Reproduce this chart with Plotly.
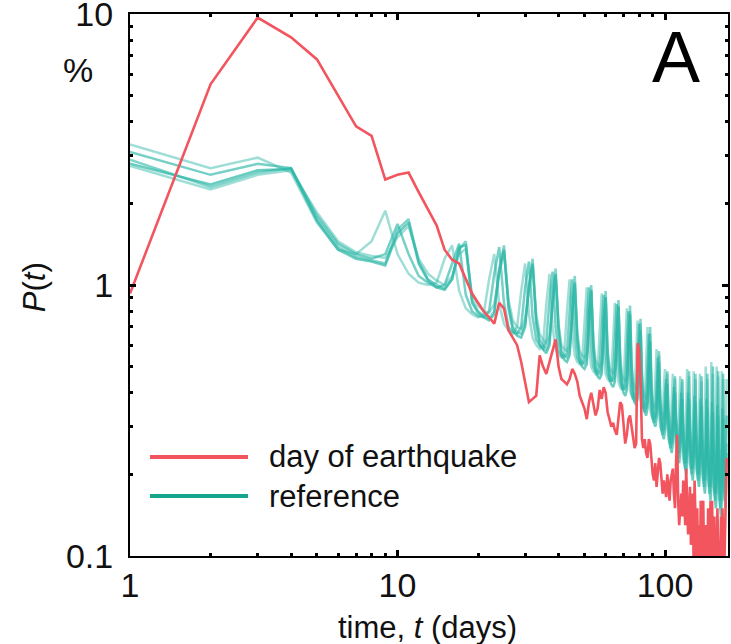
import plotly.graph_objects as go
import math

days = list(range(1, 171))

quake = [
    0.93, 5.5, 9.7, 8.2, 6.8, 5.0, 3.85, 3.55, 2.45, 2.55,
    2.6, 2.2, 1.9, 1.66, 1.35, 1.24, 1.2, 1.05, 0.93, 0.86,
    0.8, 0.76, 0.72, 0.86, 0.82, 0.68, 0.64, 0.6, 0.52, 0.44,
    0.37, 0.38, 0.39, 0.55, 0.5, 0.47, 0.52, 0.58, 0.63, 0.5,
    0.45, 0.44, 0.43, 0.45, 0.49, 0.47, 0.44, 0.39, 0.37, 0.35,
    0.32, 0.37, 0.4, 0.36, 0.33, 0.35, 0.41, 0.38, 0.42, 0.4,
    0.34, 0.32, 0.3, 0.31, 0.29, 0.28, 0.33, 0.37, 0.36, 0.3,
    0.26, 0.28, 0.32, 0.33, 0.3, 0.27, 0.25, 0.26, 0.61, 0.58,
    0.45, 0.27, 0.25, 0.27, 0.24, 0.23, 0.27, 0.26, 0.22, 0.2,
    0.19, 0.22, 0.18, 0.2, 0.23, 0.22, 0.19, 0.17, 0.19, 0.175,
    0.165, 0.2, 0.18, 0.16, 0.19, 0.2, 0.21, 0.17, 0.15, 0.22,
    0.28, 0.16, 0.13, 0.15, 0.17, 0.14, 0.19, 0.16, 0.13, 0.21,
    0.16, 0.12, 0.14, 0.18, 0.11, 0.12, 0.17, 0.09, 0.19, 0.12,
    0.1, 0.15, 0.09, 0.13, 0.08, 0.16, 0.1, 0.15, 0.16, 0.09,
    0.08, 0.13, 0.11, 0.09, 0.15, 0.08, 0.12, 0.16, 0.09, 0.16,
    0.1, 0.08, 0.14, 0.09, 0.12, 0.08, 0.15, 0.1, 0.08, 0.11,
    0.09, 0.14, 0.08, 0.15, 0.12, 0.09, 0.1, 0.13, 0.17, 0.23,
]

ref1 = [
    2.9, 2.3, 2.6, 2.7, 1.75, 1.38, 1.27, 1.23, 1.2, 1.6,
    1.75, 1.22, 1.05, 1.0, 0.97, 1.05, 1.35, 1.45, 0.88, 0.8,
    0.77, 0.75, 0.8, 1.15, 1.4, 0.85, 0.7, 0.67, 0.66, 0.72,
    1.0, 1.25, 0.75, 0.63, 0.6, 0.58, 0.62, 0.9, 1.15, 0.7,
    0.57, 0.55, 0.54, 0.57, 0.82, 1.08, 0.65, 0.54, 0.52, 0.51,
    0.53, 0.78, 1.0, 0.6, 0.5, 0.48, 0.47, 0.49, 0.72, 0.95,
    0.57, 0.47, 0.45, 0.44, 0.46, 0.68, 0.88, 0.53, 0.44, 0.42,
    0.41, 0.43, 0.64, 0.84, 0.5, 0.41, 0.39, 0.38, 0.4, 0.58,
    0.75, 0.46, 0.38, 0.36, 0.35, 0.37, 0.54, 0.7, 0.42, 0.35,
    0.33, 0.32, 0.34, 0.48, 0.57, 0.38, 0.32, 0.3, 0.29, 0.31,
    0.42, 0.48, 0.34, 0.29, 0.27, 0.26, 0.28, 0.38, 0.46, 0.32,
    0.27, 0.25, 0.24, 0.26, 0.36, 0.45, 0.3, 0.25, 0.23, 0.22,
    0.24, 0.35, 0.48, 0.29, 0.24, 0.22, 0.21, 0.23, 0.34, 0.47,
    0.28, 0.23, 0.21, 0.2, 0.22, 0.33, 0.46, 0.27, 0.22, 0.2,
    0.19, 0.21, 0.32, 0.47, 0.26, 0.21, 0.19, 0.18, 0.2, 0.32,
    0.5, 0.26, 0.2, 0.18, 0.17, 0.19, 0.31, 0.48, 0.25, 0.2,
    0.17, 0.16, 0.19, 0.3, 0.47, 0.25, 0.2, 0.18, 0.2, 0.24,
]

ref2 = [
    3.3, 2.7, 2.95, 2.6, 1.7, 1.35, 1.3, 1.45, 1.88, 1.3,
    1.1, 1.02, 1.0, 1.02, 1.25, 1.4, 0.95, 0.82, 0.78, 0.76,
    0.78, 1.05, 1.3, 0.85, 0.72, 0.68, 0.66, 0.7, 0.95, 1.2,
    0.78, 0.64, 0.6, 0.58, 0.6, 0.85, 1.1, 0.7, 0.58, 0.55,
    0.54, 0.56, 0.8, 1.05, 0.66, 0.55, 0.52, 0.51, 0.53, 0.76,
    0.98, 0.6, 0.5, 0.48, 0.47, 0.49, 0.7, 0.93, 0.57, 0.47,
    0.45, 0.44, 0.46, 0.66, 0.86, 0.53, 0.44, 0.42, 0.41, 0.43,
    0.62, 0.82, 0.5, 0.41, 0.39, 0.38, 0.4, 0.57, 0.74, 0.46,
    0.38, 0.36, 0.35, 0.37, 0.53, 0.7, 0.42, 0.35, 0.33, 0.32,
    0.34, 0.48, 0.58, 0.38, 0.32, 0.3, 0.29, 0.31, 0.42, 0.49,
    0.34, 0.29, 0.27, 0.26, 0.28, 0.38, 0.47, 0.32, 0.27, 0.25,
    0.24, 0.26, 0.36, 0.46, 0.3, 0.25, 0.23, 0.22, 0.24, 0.35,
    0.49, 0.29, 0.24, 0.22, 0.21, 0.23, 0.34, 0.48, 0.28, 0.23,
    0.21, 0.2, 0.22, 0.33, 0.47, 0.27, 0.22, 0.2, 0.19, 0.21,
    0.32, 0.5, 0.26, 0.21, 0.19, 0.18, 0.2, 0.32, 0.52, 0.26,
    0.2, 0.18, 0.17, 0.19, 0.31, 0.5, 0.25, 0.2, 0.17, 0.16,
    0.19, 0.3, 0.48, 0.25, 0.2, 0.18, 0.17, 0.19, 0.3, 0.45,
]

ref3 = [
    3.1, 2.55, 2.8, 2.7, 1.8, 1.42, 1.3, 1.25, 1.3, 1.68,
    1.3, 1.08, 1.02, 0.98, 1.0, 1.2, 1.42, 0.92, 0.8, 0.77,
    0.76, 0.8, 1.1, 1.38, 0.86, 0.7, 0.67, 0.66, 0.7, 0.98,
    1.22, 0.76, 0.63, 0.6, 0.58, 0.62, 0.88, 1.12, 0.7, 0.57,
    0.55, 0.54, 0.56, 0.8, 1.05, 0.65, 0.54, 0.52, 0.51, 0.53,
    0.76, 0.98, 0.6, 0.5, 0.48, 0.47, 0.49, 0.7, 0.92, 0.56,
    0.47, 0.45, 0.44, 0.46, 0.66, 0.85, 0.52, 0.44, 0.42, 0.41,
    0.43, 0.62, 0.8, 0.49, 0.4, 0.38, 0.37, 0.39, 0.56, 0.72,
    0.45, 0.37, 0.35, 0.34, 0.36, 0.52, 0.66, 0.41, 0.34, 0.32,
    0.31, 0.33, 0.46, 0.54, 0.36, 0.31, 0.29, 0.28, 0.3, 0.4,
    0.45, 0.32, 0.28, 0.26, 0.25, 0.27, 0.36, 0.42, 0.3, 0.26,
    0.24, 0.23, 0.25, 0.34, 0.4, 0.28, 0.24, 0.22, 0.21, 0.23,
    0.33, 0.4, 0.27, 0.22, 0.21, 0.2, 0.22, 0.32, 0.39, 0.26,
    0.21, 0.2, 0.19, 0.21, 0.31, 0.38, 0.25, 0.21, 0.19, 0.18,
    0.2, 0.3, 0.38, 0.24, 0.2, 0.18, 0.17, 0.19, 0.29, 0.37,
    0.23, 0.19, 0.17, 0.16, 0.18, 0.28, 0.36, 0.22, 0.18, 0.16,
    0.15, 0.17, 0.27, 0.35, 0.21, 0.17, 0.16, 0.18, 0.26, 0.33,
]

ref4 = [
    2.8, 2.35, 2.65, 2.68, 1.72, 1.35, 1.25, 1.22, 1.18, 1.55,
    1.7, 1.2, 1.04, 0.98, 0.96, 1.05, 1.38, 1.4, 0.86, 0.79,
    0.76, 0.74, 0.78, 1.12, 1.35, 0.82, 0.68, 0.65, 0.64, 0.7,
    0.98, 1.2, 0.72, 0.6, 0.58, 0.56, 0.6, 0.86, 1.1, 0.67,
    0.55, 0.53, 0.52, 0.55, 0.78, 1.02, 0.62, 0.52, 0.5, 0.49,
    0.51, 0.74, 0.96, 0.58, 0.48, 0.46, 0.45, 0.47, 0.68, 0.9,
    0.54, 0.45, 0.43, 0.42, 0.44, 0.64, 0.83, 0.5, 0.42, 0.4,
    0.39, 0.41, 0.6, 0.78, 0.47, 0.39, 0.37, 0.36, 0.38, 0.54,
    0.68, 0.43, 0.36, 0.34, 0.33, 0.35, 0.5, 0.62, 0.4, 0.33,
    0.31, 0.3, 0.32, 0.44, 0.52, 0.35, 0.3, 0.28, 0.27, 0.29,
    0.38, 0.43, 0.31, 0.27, 0.25, 0.24, 0.26, 0.34, 0.4, 0.29,
    0.25, 0.23, 0.22, 0.24, 0.32, 0.38, 0.27, 0.23, 0.21, 0.2,
    0.22, 0.31, 0.38, 0.26, 0.21, 0.2, 0.19, 0.21, 0.3, 0.37,
    0.25, 0.2, 0.19, 0.18, 0.2, 0.29, 0.36, 0.24, 0.2, 0.18,
    0.17, 0.19, 0.28, 0.35, 0.23, 0.19, 0.17, 0.16, 0.18, 0.27,
    0.34, 0.22, 0.18, 0.16, 0.15, 0.17, 0.26, 0.33, 0.21, 0.17,
    0.15, 0.14, 0.16, 0.25, 0.32, 0.2, 0.16, 0.15, 0.17, 0.22,
]

ref5 = [
    2.75, 2.25, 2.55, 2.65, 1.85, 1.45, 1.32, 1.28, 1.26, 1.5,
    1.65, 1.25, 1.1, 1.04, 1.0, 1.08, 1.3, 1.36, 0.92, 0.84,
    0.8, 0.79, 0.85, 1.1, 1.32, 0.88, 0.74, 0.7, 0.69, 0.75,
    0.95, 1.18, 0.78, 0.66, 0.63, 0.61, 0.65, 0.85, 1.08, 0.72,
    0.6, 0.58, 0.57, 0.6, 0.8, 1.0, 0.67, 0.57, 0.55, 0.54,
    0.56, 0.75, 0.95, 0.62, 0.53, 0.51, 0.5, 0.52, 0.7, 0.9,
    0.58, 0.5, 0.48, 0.47, 0.49, 0.66, 0.84, 0.55, 0.47, 0.45,
    0.44, 0.46, 0.62, 0.8, 0.52, 0.44, 0.42, 0.41, 0.43, 0.57,
    0.72, 0.48, 0.41, 0.39, 0.38, 0.4, 0.53, 0.66, 0.44, 0.37,
    0.36, 0.35, 0.37, 0.47, 0.55, 0.39, 0.34, 0.33, 0.32, 0.34,
    0.42, 0.47, 0.35, 0.31, 0.29, 0.28, 0.3, 0.38, 0.45, 0.33,
    0.29, 0.27, 0.26, 0.28, 0.36, 0.44, 0.31, 0.27, 0.25, 0.24,
    0.26, 0.35, 0.46, 0.3, 0.26, 0.24, 0.23, 0.25, 0.34, 0.45,
    0.29, 0.24, 0.23, 0.22, 0.24, 0.33, 0.44, 0.28, 0.24, 0.22,
    0.21, 0.23, 0.32, 0.45, 0.27, 0.23, 0.21, 0.2, 0.22, 0.32,
    0.47, 0.27, 0.22, 0.2, 0.19, 0.21, 0.31, 0.46, 0.26, 0.21,
    0.19, 0.18, 0.2, 0.3, 0.45, 0.26, 0.21, 0.19, 0.21, 0.26,
]

reference_runs = [ref1, ref2, ref3, ref4, ref5]
run_opacity = [0.6, 0.45, 0.65, 0.7, 0.45]

RED = "#F2555E"
TEAL = "#2DB8A8"
TEAL_LEG = "#17A58E"
FONT = "Liberation Sans, Arial, Helvetica, sans-serif"

fig = go.Figure()
for vals, op in zip(reference_runs, run_opacity):
    fig.add_trace(go.Scatter(x=days, y=vals, mode="lines",
                             line=dict(color=TEAL, width=2.5),
                             opacity=op, showlegend=False, hoverinfo="skip"))
fig.add_trace(go.Scatter(x=days, y=quake, mode="lines",
                         line=dict(color=RED, width=2.6),
                         showlegend=False))

axis_common = dict(
    type="log", showline=True, linecolor="black", linewidth=2, mirror="allticks",
    ticks="inside", ticklen=6, tickwidth=3, tickcolor="black",
    showgrid=False, zeroline=False, automargin=False,
    tickfont=dict(family=FONT, size=34, color="#111"),
    minor=dict(ticks="inside", ticklen=3, tickwidth=3, tickcolor="black", dtick="D1", showgrid=False),
    dtick=1, ticklabeloverflow="allow",
)
fig.update_xaxes(range=[0, math.log10(172)], ticklabelstandoff=-2, **axis_common)
fig.update_yaxes(range=[-1, 1], ticklabelstandoff=8, **axis_common)

ann_font = dict(family=FONT, size=31, color="#111")
annotations = [
    dict(text="time, <i>t</i> (days)", x=0.498, y=-0.131, xref="paper", yref="paper",
         xanchor="center", yanchor="middle", showarrow=False, font=ann_font),
    dict(text="<i>P</i>(<i>t</i>)", x=-0.1605, y=0.496, xref="paper", yref="paper",
         xanchor="center", yanchor="middle", textangle=-90, showarrow=False, font=ann_font),
    dict(text="%", x=-0.087, y=0.897, xref="paper", yref="paper",
         xanchor="center", yanchor="middle", showarrow=False,
         font=dict(family=FONT, size=34, color="#111")),
    dict(text="A", x=0.913, y=0.921, xref="paper", yref="paper",
         xanchor="center", yanchor="middle", showarrow=False,
         font=dict(family=FONT, size=72, color="black")),
    dict(text="day of earthquake", x=0.229, y=0.1827, xref="paper", yref="paper",
         xanchor="left", yanchor="middle", showarrow=False, font=ann_font),
    dict(text="reference", x=0.229, y=0.1107, xref="paper", yref="paper",
         xanchor="left", yanchor="middle", showarrow=False, font=ann_font),
]
shapes = [
    dict(type="line", xref="paper", yref="paper", x0=0.0334, x1=0.1973, y0=0.1827, y1=0.1827,
         line=dict(color=RED, width=4)),
    dict(type="line", xref="paper", yref="paper", x0=0.0334, x1=0.1973, y0=0.1107, y1=0.1107,
         line=dict(color=TEAL_LEG, width=4)),
]

fig.update_layout(
    width=731, height=644,
    margin=dict(l=130, r=3, t=14, b=88, autoexpand=False),
    paper_bgcolor="white", plot_bgcolor="white",
    annotations=annotations, shapes=shapes,
    showlegend=False,
    font=dict(family=FONT),
)

fig.write_html("out.html",
               config={"displayModeBar": False},
               post_script="document.body.style.margin='0';document.body.style.overflow='hidden';")
